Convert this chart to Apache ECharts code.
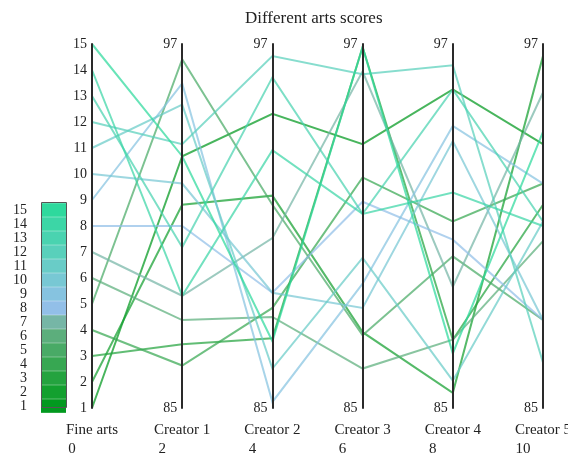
<!DOCTYPE html>
<html>
<head>
<meta charset="utf-8">
<script src="https://cdn.jsdelivr.net/npm/echarts@6/dist/echarts.min.js"></script>
<style>
html,body{margin:0;padding:0;background:#fff;}
#main{width:568px;height:454px;}
</style>
</head>
<body>
<div id="main"></div>
<script>
// ---- data ----
const dimensions = ['Fine arts', 'Creator 1', 'Creator 2', 'Creator 3', 'Creator 4', 'Creator 5'];
const axisNumbers = ['0', '2', '4', '6', '8', '10'];
const fineArts = [1, 2, 3, 4, 5, 6, 7, 8, 9, 10, 11, 12, 13, 14, 15];
const creator1 = [93.3, 91.7, 87.1, 86.4, 96.5, 87.9, 88.7, 91.0, 95.7, 92.4, 95.0, 93.7, 90.3, 88.7, 93.3];
const creator2 = [94.7, 92.0, 87.3, 88.3, 91.7, 88.0, 90.6, 88.8, 85.2, 88.8, 86.3, 96.6, 95.9, 93.5, 87.2];
const creator3 = [93.7, 87.5, 96.9, 92.6, 87.4, 86.3, 96.1, 91.8, 89.1, 88.3, 89.95, 96.0, 91.4, 91.4, 96.9];
const creator4 = [95.5, 85.5, 87.25, 91.15, 90.0, 87.25, 89.0, 90.55, 94.3, 93.8, 85.9, 96.3, 95.5, 92.1, 86.8];
const creator5 = [93.7, 96.6, 91.7, 92.4, 87.9, 90.5, 95.4, 87.9, 92.4, 87.9, 91.15, 86.5, 91.15, 91.0, 94.1];
const scoreLevels = [1, 2, 3, 4, 5, 6, 7, 8, 9, 10, 11, 12, 13, 14, 15];
const levelColors = ['#02991f', '#13a02f', '#24a33f', '#37a752', '#49aa66', '#5cae7c', '#76b6a6', '#92bfe8',
  '#86c3e0', '#78c8d4', '#69ccc7', '#59d0bb', '#4ad3b0', '#3cd6a6', '#2ed99d'];
const titleText = 'Different arts scores';
const creatorMin = 85, creatorMax = 97;
const fineMin = 1, fineMax = 15;

// ---- build ----
const FONT = 'Liberation Serif';
const rows = fineArts.map((v, i) => [v, creator1[i], creator2[i], creator3[i], creator4[i], creator5[i]]);

const parallelAxis = dimensions.map((name, i) => {
  const isFirst = i === 0;
  return {
    dim: i,
    name: '{a|' + name + '}\n{b|' + axisNumbers[i] + '}',
    nameLocation: 'start',
    nameGap: 13,
    nameTextStyle: {
      fontFamily: FONT, fontSize: 15, color: '#222',
      rich: {
        a: { fontFamily: FONT, fontSize: 15, color: '#222', align: 'center', lineHeight: 19 },
        b: { fontFamily: FONT, fontSize: 15, color: '#222', align: 'center', padding: [0, 40, 0, 0], lineHeight: 19 }
      }
    },
    min: isFirst ? fineMin : creatorMin,
    max: isFirst ? fineMax : creatorMax,
    interval: 1,
    axisLine: { lineStyle: { color: '#2a2a2a', width: 2 } },
    axisTick: { show: false },
    splitLine: { show: false },
    axisLabel: {
      margin: -5,
      align: 'right',
      fontFamily: FONT, fontSize: 14, color: '#222',
      formatter: function (v) {
        if (isFirst) return String(v);
        return (v === creatorMin || v === creatorMax) ? String(v) : '';
      }
    }
  };
});

const chart = echarts.init(document.getElementById('main'), null, { renderer: 'canvas' });
chart.setOption({
  animation: false,
  backgroundColor: '#fff',
  title: {
    text: titleText,
    left: 240,
    top: 5,
    textStyle: { fontFamily: FONT, fontSize: 17, fontWeight: 'normal', color: '#222' }
  },
  parallel: {
    left: 92, right: 25, top: 44, bottom: 46,
    layout: 'horizontal'
  },
  parallelAxis: parallelAxis,
  visualMap: {
    type: 'piecewise',
    dimension: 0,
    seriesIndex: 0,
    orient: 'vertical',
    left: 13,
    top: 203,
    padding: 0,
    itemWidth: 25,
    itemHeight: 13.67,
    itemGap: 0,
    itemSymbol: 'rect',
    align: 'right',
    textGap: 14,
    hoverLink: false,
    selectedMode: false,
    textStyle: { fontFamily: FONT, fontSize: 14, color: '#222' },
    pieces: scoreLevels.map((v, i) => ({ value: v, label: String(v), color: levelColors[i] }))
  },
  graphic: [{
    type: 'rect', silent: true, z: 100,
    shape: { x: 41.5, y: 202.5, width: 25, height: 205 },
    style: { fill: 'none', stroke: '#555', lineWidth: 1 }
  }],
  series: [{
    type: 'parallel',
    smooth: false,
    lineStyle: { width: 2, opacity: 0.72 },
    data: rows
  }]
});
</script>
</body>
</html>
